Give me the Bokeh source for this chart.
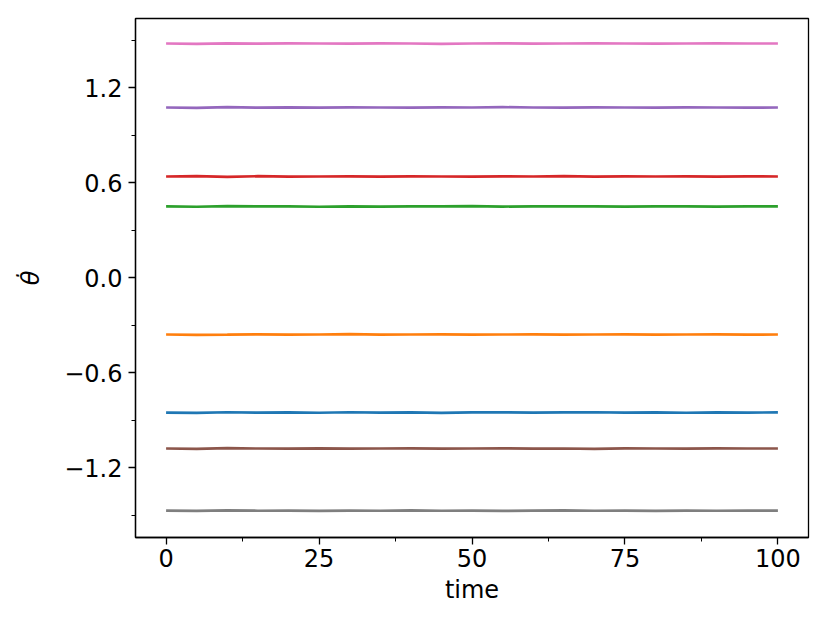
from bokeh.plotting import figure
from bokeh.models import FixedTicker, CustomJSTickFormatter, Range1d
from bokeh.embed import file_html
from bokeh.resources import INLINE

time = [0, 5, 10, 15, 20, 25, 30, 35, 40, 45, 50, 55, 60, 65, 70, 75, 80, 85, 90, 95, 100]

series_blue = [-0.853, -0.855, -0.851, -0.853, -0.852, -0.854, -0.851, -0.853, -0.852, -0.855, -0.852, -0.851, -0.853, -0.852, -0.851, -0.853, -0.852, -0.854, -0.852, -0.853, -0.852]
series_orange = [-0.360, -0.362, -0.361, -0.359, -0.361, -0.360, -0.358, -0.361, -0.360, -0.359, -0.361, -0.360, -0.359, -0.361, -0.360, -0.359, -0.361, -0.360, -0.359, -0.361, -0.360]
series_green = [0.449, 0.447, 0.451, 0.449, 0.450, 0.447, 0.450, 0.448, 0.450, 0.449, 0.451, 0.448, 0.450, 0.449, 0.450, 0.448, 0.450, 0.449, 0.448, 0.450, 0.449]
series_red = [0.638, 0.640, 0.636, 0.640, 0.637, 0.638, 0.639, 0.637, 0.639, 0.638, 0.637, 0.639, 0.638, 0.640, 0.637, 0.639, 0.638, 0.639, 0.637, 0.639, 0.638]
series_purple = [1.074, 1.072, 1.076, 1.073, 1.075, 1.073, 1.075, 1.074, 1.073, 1.075, 1.074, 1.076, 1.074, 1.073, 1.075, 1.074, 1.073, 1.075, 1.074, 1.073, 1.074]
series_brown = [-1.080, -1.082, -1.078, -1.080, -1.081, -1.079, -1.081, -1.080, -1.079, -1.081, -1.080, -1.079, -1.081, -1.080, -1.082, -1.079, -1.080, -1.081, -1.079, -1.080, -1.080]
series_pink = [1.478, 1.476, 1.479, 1.477, 1.479, 1.478, 1.477, 1.479, 1.478, 1.476, 1.478, 1.479, 1.477, 1.478, 1.479, 1.478, 1.477, 1.478, 1.479, 1.478, 1.478]
series_gray = [-1.472, -1.474, -1.471, -1.473, -1.472, -1.474, -1.472, -1.473, -1.471, -1.473, -1.472, -1.474, -1.472, -1.471, -1.473, -1.472, -1.474, -1.472, -1.473, -1.472, -1.472]

colors = ["#1f77b4", "#ff7f0e", "#2ca02c", "#d62728", "#9467bd", "#8c564b", "#e377c2", "#7f7f7f"]
all_series = [series_blue, series_orange, series_green, series_red,
              series_purple, series_brown, series_pink, series_gray]

p = figure(width=822, height=615, output_backend="svg", toolbar_location=None,
           x_range=Range1d(-5, 105), y_range=Range1d(-1.642, 1.636),
           min_border_left=135, min_border_right=14, min_border_top=18, min_border_bottom=78)

for s, c in zip(all_series, colors):
    p.line(time, s, line_color=c, line_width=2.7)

p.xgrid.visible = False
p.ygrid.visible = False
p.outline_line_color = "black"
p.outline_line_width = 1.3
p.background_fill_color = "white"
p.border_fill_color = "white"

p.xaxis.ticker = FixedTicker(ticks=[0, 25, 50, 75, 100], minor_ticks=[12.5, 37.5, 62.5, 87.5])
p.yaxis.ticker = FixedTicker(ticks=[-1.2, -0.6, 0.0, 0.6, 1.2],
                             minor_ticks=[-1.5, -0.9, -0.3, 0.3, 0.9, 1.5])
p.yaxis.formatter = CustomJSTickFormatter(code="""
    var s = tick.toFixed(1);
    if (Math.abs(tick) < 1e-9) { s = '0.0'; }
    return s.replace('-', '\\u2212');
""")
p.xaxis.formatter = CustomJSTickFormatter(code="return tick.toFixed(0);")

for ax in [p.xaxis[0], p.yaxis[0]]:
    ax.axis_line_color = "black"
    ax.axis_line_width = 1.3
    ax.major_tick_line_color = "black"
    ax.major_tick_line_width = 1.3
    ax.minor_tick_line_color = "black"
    ax.minor_tick_line_width = 1.0
    ax.major_tick_out = 7
    ax.major_tick_in = 0
    ax.minor_tick_out = 4
    ax.minor_tick_in = 0
    ax.major_label_text_font = "DejaVu Sans"
    ax.major_label_text_font_size = "24px"
    ax.major_label_text_color = "black"
    ax.axis_label_text_font = "DejaVu Sans"
    ax.axis_label_text_font_size = "24px"
    ax.axis_label_text_color = "black"
    ax.major_label_standoff = 5

p.xaxis.axis_label = "time"
p.xaxis.axis_label_text_font_style = "normal"
p.xaxis.axis_label_standoff = 6
p.xaxis.major_label_standoff = 4
p.yaxis.axis_label = "θ̇"
p.yaxis.axis_label_text_font_style = "italic"
p.yaxis.axis_label_standoff = 16
p.yaxis.major_label_standoff = 6

open("out.html", "w").write(file_html(p, INLINE))
